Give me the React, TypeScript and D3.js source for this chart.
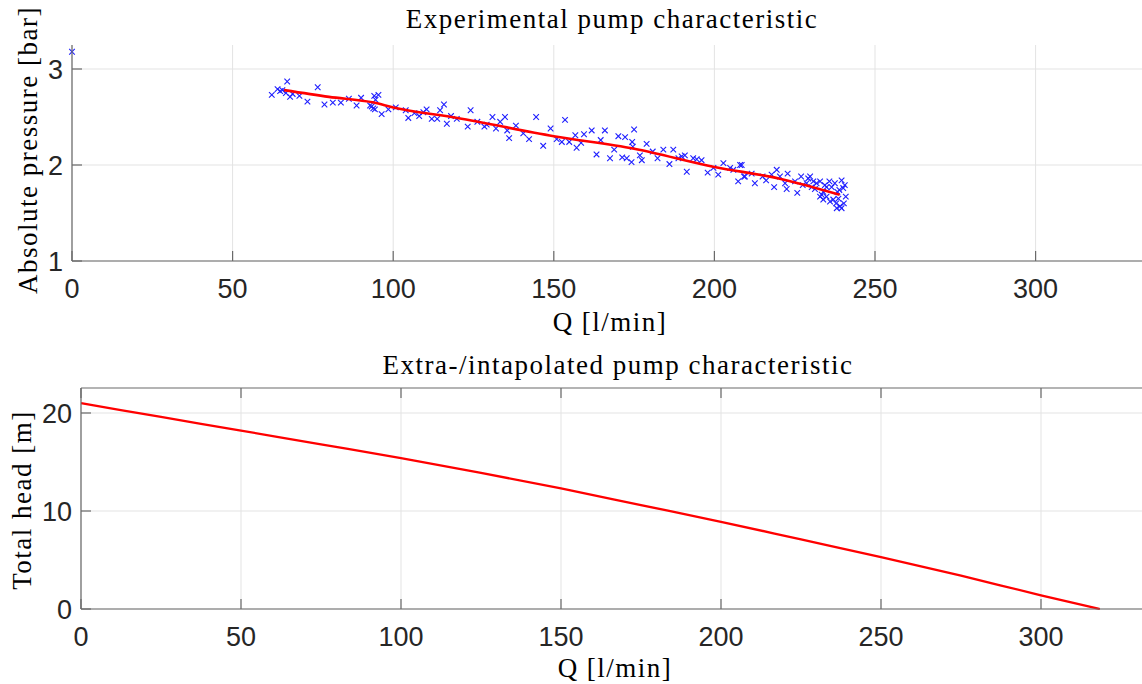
import React from "react";
import * as d3 from "d3";

// ---- Data ----
const measQ: number[] = [
  0, 62.2, 64.0, 64.8, 65.5, 67.0, 66.6, 67.9, 68.7, 70.8, 73.3, 76.5, 78.6, 81.2, 83.7, 86.2, 88.6, 90.0,
  92.8, 94.1, 95.4, 94.5, 93.3, 93.8, 94.3, 96.4, 98.5, 100.8, 103.9, 104.7, 106.6, 108.1, 109.4,
  110.4, 112.0, 113.7, 114.6, 115.8, 116.7, 118.0, 119.8, 123.2, 124.1, 126.2, 128.4, 129.1, 130.9,
  132.0, 133.3, 134.8, 135.5, 136.1, 138.2, 140.5, 142.3, 144.5, 146.7, 149.0, 150.9, 152.5, 153.5,
  154.8, 156.7, 157.1, 158.5, 159.4,
  161.8, 164.6, 165.9, 163.3, 167.5, 168.8, 170.1, 171.3, 172.2, 172.7, 174.2, 174.4, 175.0, 174.6,
  176.8, 177.4, 178.9, 180.8, 182.3, 184.1, 186.0, 187.2, 188.8, 189.8, 190.8, 191.4, 193.4, 194.5,
  196.0, 197.9, 199.7, 201.2, 202.8, 204.9, 205.9, 208.0, 207.4, 209.5, 211.6,
  208.5, 209.2, 212.6, 215.0, 216.1, 217.8, 218.6, 219.4, 220.4, 222.0, 222.8, 222.5, 225.1, 225.8,
  227.0, 227.5, 228.7, 229.2, 229.8, 230.3, 230.8, 231.3, 231.8, 232.9, 233.4, 233.9, 234.4, 234.9,
  235.8, 236.0, 236.5, 237.0, 237.5, 237.9, 238.3, 238.6, 239.1, 239.6, 240.1, 240.3, 240.6, 240.9,
  239.6, 238.1, 238.9, 234.9, 233.9, 232.9,
];
const measP: number[] = [
  3.18, 2.73, 2.79, 2.77, 2.78, 2.87, 2.75, 2.71, 2.74, 2.72, 2.66, 2.81, 2.63, 2.65, 2.65, 2.69, 2.62, 2.70,
  2.62, 2.72, 2.73, 2.68, 2.61, 2.59, 2.58, 2.53, 2.58, 2.60, 2.57, 2.49, 2.54, 2.51, 2.55,
  2.58, 2.48, 2.48, 2.57, 2.63, 2.43, 2.51, 2.48, 2.40, 2.57, 2.45, 2.40, 2.42, 2.50,
  2.38, 2.45, 2.50, 2.36, 2.28, 2.41, 2.33, 2.27, 2.50, 2.20, 2.38, 2.27, 2.24, 2.47,
  2.24, 2.31, 2.18, 2.23, 2.32,
  2.36, 2.26, 2.36, 2.11, 2.07, 2.16, 2.30, 2.08, 2.29, 2.07, 2.03, 2.24, 2.37, 2.19,
  2.10, 2.05, 2.22, 2.14, 2.07, 2.16, 2.01, 2.16, 2.07, 2.09, 2.10, 1.93, 2.07, 2.06,
  2.05, 1.92, 1.97, 1.90, 2.02, 1.97, 1.95, 2.00, 1.83, 1.88, 1.91,
  2.00, 1.88, 1.81, 1.88, 1.84, 1.90, 1.77, 1.95, 1.88, 1.81, 1.91, 1.75, 1.83, 1.71,
  1.88, 1.79, 1.81, 1.86, 1.88, 1.77, 1.83, 1.75, 1.81, 1.83, 1.69, 1.64, 1.79, 1.67,
  1.83, 1.62, 1.77, 1.64, 1.81, 1.60, 1.72, 1.65, 1.57, 1.84, 1.76, 1.60, 1.79, 1.67,
  1.55, 1.55, 1.74, 1.77, 1.72, 1.67,
];

const fitQ: number[] = [66, 80, 94, 100, 120, 150, 175, 200, 220, 239];
const fitP: number[] = [2.78, 2.71, 2.65, 2.60, 2.49, 2.30, 2.17, 1.98, 1.86, 1.69];

const headQ: number[] = [0, 25, 50, 75, 100, 125, 150, 175, 200, 225, 250, 275, 300, 318.4];
const headH: number[] = [21.0, 19.6, 18.2, 16.8, 15.4, 13.9, 12.3, 10.6, 8.9, 7.1, 5.3, 3.4, 1.4, 0];

const xTicks: number[] = [0, 50, 100, 150, 200, 250, 300];
const pTicks: number[] = [1, 2, 3];
const hTicks: number[] = [0, 10, 20];

const W = 1142;
const H = 684;
const SERIF = "'Liberation Serif', 'DejaVu Serif', serif";
const SANS = "'Liberation Sans', Arial, sans-serif";
const AXC = "#6a6a6a";
const GRID = "#e3e3e3";
const TXT = "#262626";
const SF = 27;
const LS = 1.5;

type PanelProps = {
  x0: number; x1: number; y0: number; y1: number;
  xDom: [number, number]; yDom: [number, number];
  yTicks: number[]; boxTop: boolean;
  children: (xs: d3.ScaleLinear<number, number>, ys: d3.ScaleLinear<number, number>) => React.ReactNode;
};

function Panel({ x0, x1, y0, y1, xDom, yDom, yTicks, boxTop, children }: PanelProps) {
  const xs = d3.scaleLinear().domain(xDom).range([x0, x1]);
  const ys = d3.scaleLinear().domain(yDom).range([y1, y0]);
  const tl = 10;
  return (
    <g>
      {xTicks.map((t) => (
        <line key={"gx" + t} x1={xs(t)} x2={xs(t)} y1={y0} y2={y1} stroke={GRID} strokeWidth={1} />
      ))}
      {yTicks.map((t) => (
        <line key={"gy" + t} x1={x0} x2={W} y1={ys(t)} y2={ys(t)} stroke={GRID} strokeWidth={1} />
      ))}
      {children(xs, ys)}
      <line x1={x0} x2={W} y1={y1} y2={y1} stroke={AXC} strokeWidth={1.2} />
      <line x1={x0} x2={x0} y1={y0} y2={y1} stroke={AXC} strokeWidth={1.2} />
      {boxTop && <line x1={x0} x2={W} y1={y0} y2={y0} stroke={AXC} strokeWidth={1.2} />}
      {xTicks.map((t) => (
        <g key={"tx" + t}>
          <line x1={xs(t)} x2={xs(t)} y1={y1} y2={y1 - tl} stroke={AXC} strokeWidth={1.2} />
          {boxTop && <line x1={xs(t)} x2={xs(t)} y1={y0} y2={y0 + tl} stroke={AXC} strokeWidth={1.2} />}
          <text x={xs(t)} y={y1 + 37} textAnchor="middle" fontFamily={SANS} fontSize={27} fill={TXT}>
            {t}
          </text>
        </g>
      ))}
      {yTicks.map((t) => (
        <g key={"ty" + t}>
          <line x1={x0} x2={x0 + tl} y1={ys(t)} y2={ys(t)} stroke={AXC} strokeWidth={1.2} />
          <text x={x0 - 9} y={ys(t) + 10} textAnchor="end" fontFamily={SANS} fontSize={27} fill={TXT}>
            {t}
          </text>
        </g>
      ))}
    </g>
  );
}

export default function App() {
  const line = (xs: d3.ScaleLinear<number, number>, ys: d3.ScaleLinear<number, number>, qx: number[], qy: number[]) =>
    d3.line<number>().x((_, i) => xs(qx[i])).y((_, i) => ys(qy[i])).curve(d3.curveMonotoneX)(qx) || "";
  const serifProps = { fontFamily: SERIF, fontSize: SF, letterSpacing: LS, fill: "#000" };
  return (
    <svg width={W} height={H} style={{ position: "absolute", left: 0, top: 0, background: "#fff" }}>
      <rect x={0} y={0} width={W} height={H} fill="#fff" />
      {/* Top panel */}
      <text x={612} y={28} textAnchor="middle" {...serifProps}>
        Experimental pump characteristic
      </text>
      <Panel x0={72} x1={72 + 333 * 3.212} y0={45} y1={261} xDom={[0, 333]} yDom={[1, 3.25]} yTicks={pTicks} boxTop={false}>
        {(xs, ys) => (
          <g>
            {measQ.map((q, i) => {
              const cx = xs(q);
              const cy = ys(measP[i]);
              const s = 2.8;
              return (
                <path key={i} d={`M${cx - s},${cy - s}L${cx + s},${cy + s}M${cx - s},${cy + s}L${cx + s},${cy - s}`}
                  stroke="#1f1fff" strokeWidth={1.1} fill="none" />
              );
            })}
            <path d={line(xs, ys, fitQ, fitP)} stroke="#ff0000" strokeWidth={2.6} fill="none" />
          </g>
        )}
      </Panel>
      <text x={610} y={331} textAnchor="middle" {...serifProps}>
        Q [l/min]
      </text>
      <text transform="translate(37,150) rotate(-90)" textAnchor="middle" {...serifProps}>
        Absolute pressure [bar]
      </text>

      {/* Bottom panel */}
      <text x={618} y={374} textAnchor="middle" {...serifProps}>
        Extra-/intapolated pump characteristic
      </text>
      <Panel x0={81} x1={81 + 333 * 3.2} y0={388} y1={609} xDom={[0, 333]} yDom={[0, 22.55]} yTicks={hTicks} boxTop={true}>
        {(xs, ys) => (
          <path d={line(xs, ys, headQ, headH)} stroke="#ff0000" strokeWidth={2.3} fill="none" />
        )}
      </Panel>
      <text x={615} y={677} textAnchor="middle" {...serifProps}>
        Q [l/min]
      </text>
      <text transform="translate(31,500) rotate(-90)" textAnchor="middle" {...serifProps}>
        Total head [m]
      </text>
    </svg>
  );
}
